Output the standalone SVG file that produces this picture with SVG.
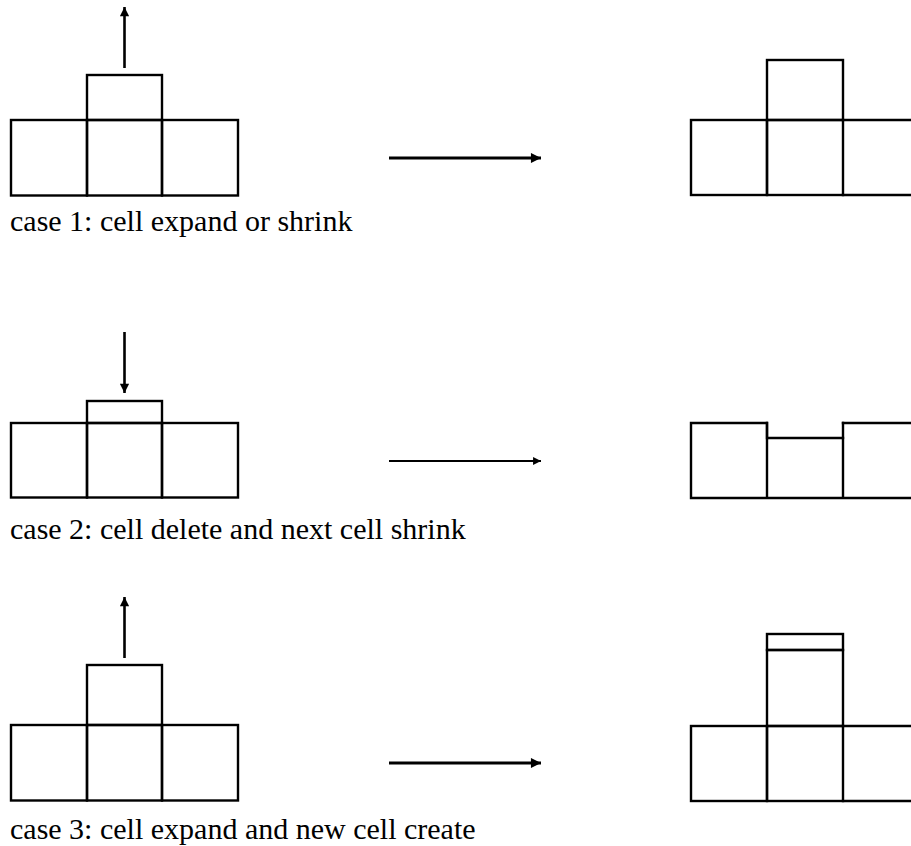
<svg xmlns="http://www.w3.org/2000/svg" width="911" height="846" viewBox="0 0 911 846">
  <style>
    .cell { fill: none; stroke: #000; stroke-width: 2.4; stroke-linecap: square; }
    .push { fill: none; stroke: #000; stroke-width: 2.6; }
    .flow { fill: none; stroke: #000; stroke-width: 2.2; }
    .flow.bold { stroke-width: 2.8; }
    .caption { font-family: "Liberation Serif", "DejaVu Serif", serif; font-size: 30px; fill: #000; }
  </style>
  <defs>
    <marker id="head" viewBox="0 0 10 10" refX="10" refY="5" markerWidth="4" markerHeight="3.6" markerUnits="strokeWidth" orient="auto">
      <path d="M0,0 L10,5 L0,10 z" fill="#000"/>
    </marker>
    <marker id="headSmall" viewBox="0 0 10 10" refX="10" refY="5" markerWidth="4.4" markerHeight="3.6" markerUnits="strokeWidth" orient="auto">
      <path d="M0,0 L10,5 L0,10 z" fill="#000"/>
    </marker>
  </defs>

  <!-- case 1: before -->
  <g id="case1-before">
    <rect class="cell" x="11" y="120" width="76" height="75.5"/>
    <rect class="cell" x="87" y="120" width="75" height="75.5"/>
    <rect class="cell" x="162" y="120" width="76" height="75.5"/>
    <rect class="cell" x="87" y="75" width="75" height="45"/>
  </g>
  <!-- case 1: after -->
  <g id="case1-after">
    <rect class="cell" x="691" y="120" width="76" height="75"/>
    <rect class="cell" x="767" y="120" width="76" height="75"/>
    <path class="cell" d="M843,120 H912 M843,195 H912"/>
    <rect class="cell" x="767" y="60" width="76" height="60"/>
  </g>
  <text class="caption" x="10" y="231">case 1: cell expand or shrink</text>

  <!-- case 2: before -->
  <g id="case2-before">
    <rect class="cell" x="11" y="423" width="76" height="74.5"/>
    <rect class="cell" x="87" y="423" width="75" height="74.5"/>
    <rect class="cell" x="162" y="423" width="76" height="74.5"/>
    <rect class="cell" x="87" y="401" width="75" height="22"/>
  </g>
  <!-- case 2: after -->
  <g id="case2-after">
    <path class="cell" d="M691,498 V423 H767 V498 M767,438 H843 V498 M843,423 H912 M691,498 H912"/>
    <path class="cell" d="M767,423 V438 M843,423 V438"/>
  </g>
  <text class="caption" x="10" y="539">case 2: cell delete and next cell shrink</text>

  <!-- case 3: before -->
  <g id="case3-before">
    <rect class="cell" x="11" y="725" width="76" height="75.5"/>
    <rect class="cell" x="87" y="725" width="75" height="75.5"/>
    <rect class="cell" x="162" y="725" width="76" height="75.5"/>
    <rect class="cell" x="87" y="665" width="75" height="60"/>
  </g>
  <!-- case 3: after -->
  <g id="case3-after">
    <rect class="cell" x="691" y="726" width="76" height="75"/>
    <rect class="cell" x="767" y="726" width="76" height="75"/>
    <path class="cell" d="M843,726 H912 M843,801 H912"/>
    <rect class="cell" x="767" y="650" width="76" height="76"/>
    <rect class="cell" x="767" y="634" width="76" height="16"/>
  </g>
  <text class="caption" x="10" y="839">case 3: cell expand and new cell create</text>

  <!-- connectors -->
  <g id="connectors">
    <line class="push" x1="124.5" y1="68" x2="124.5" y2="7" marker-end="url(#head)"/>
    <line class="flow bold" x1="389" y1="158" x2="541" y2="158" marker-end="url(#headSmall)"/>
    <line class="push" x1="124.5" y1="332" x2="124.5" y2="393" marker-end="url(#head)"/>
    <line class="flow" x1="389" y1="461" x2="541" y2="461" marker-end="url(#headSmall)"/>
    <line class="push" x1="124.5" y1="658" x2="124.5" y2="597" marker-end="url(#head)"/>
    <line class="flow bold" x1="389" y1="763" x2="541" y2="763" marker-end="url(#headSmall)"/>
  </g>
</svg>
